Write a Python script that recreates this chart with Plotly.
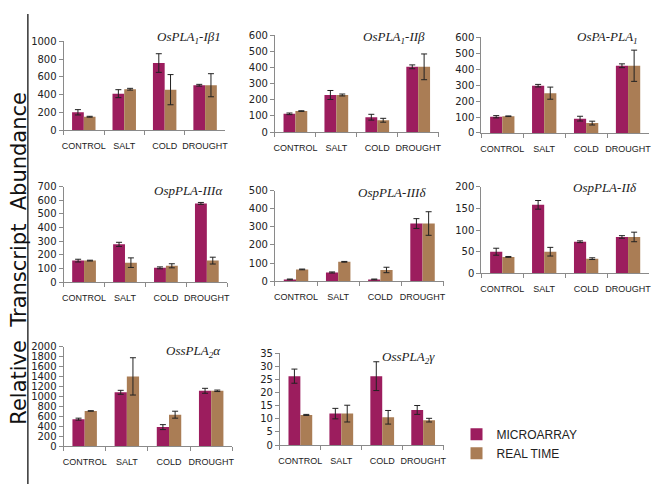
import plotly.graph_objects as go

categories = ["CONTROL", "SALT", "COLD", "DROUGHT"]
series_names = ["MICROARRAY", "REAL TIME"]
colors = ["#9C1D5E", "#AA7D55"]

titles = ["OsPLA<sub>1</sub>-Iβ1", "OsPLA<sub>1</sub>-IIβ", "OsPA-PLA<sub>1</sub>",
          "OspPLA-IIIα", "OspPLA-IIIδ", "OspPLA-IIδ",
          "OssPLA<sub>2</sub>α", "OssPLA<sub>2</sub>γ"]

micro = [
    [200, 410, 755, 505],
    [113, 230, 92, 405],
    [102, 297, 90, 422],
    [158, 277, 105, 577],
    [10, 48, 10, 318],
    [50, 158, 73, 84],
    [540, 1080, 380, 1110],
    [26.3, 12, 26.3, 13.4],
]
micro_err = [
    [30, 45, 105, 10],
    [5, 28, 18, 12],
    [7, 8, 15, 12],
    [10, 15, 7, 7],
    [2, 3, 2, 27],
    [8, 10, 2, 3],
    [20, 40, 50, 50],
    [2.7, 2, 5.5, 1.7],
]
realtime = [
    [150, 460, 455, 505],
    [130, 230, 73, 405],
    [105, 250, 62, 422],
    [158, 143, 120, 158],
    [65, 107, 62, 318],
    [38, 50, 34, 84],
    [705, 1400, 630, 1110],
    [11.5, 12, 10.6, 9.5],
]
realtime_err = [
    [5, 10, 170, 130],
    [2, 6, 12, 80],
    [2, 38, 12, 98],
    [3, 35, 15, 25],
    [2, 2, 15, 65],
    [1, 10, 2, 11],
    [5, 375, 70, 15],
    [0.2, 3.2, 2.6, 0.7],
]
y_max = [1000, 600, 600, 700, 500, 200, 2000, 35]
y_dtick = [200, 100, 100, 100, 100, 50, 200, 5]

# page body has an 8px margin; figure sized to fit inside the 661x500 window
OFF = 8
W, H = 645, 484


def px(x):
    return (x - OFF) / W


def py(y):
    return 1 - (y - OFF) / H


# pixel boxes in window coords: x0, x1, ytop, ybottom
boxes = [
    (62, 225, 36, 127),
    (275, 440, 30, 129),
    (483, 652, 32, 130),
    (62, 227, 185, 283),
    (275, 445, 189, 282),
    (483, 652, 185, 274),
    (62, 232, 349, 451),
    (280, 445, 356, 450),
]
title_pos = [(188, 32), (395, 32), (610, 32), (188, 189), (393, 191), (608, 186), (193, 354), (410, 360)]

fig = go.Figure()
layout = {}
annotations = []
for i in range(8):
    n = "" if i == 0 else str(i + 1)
    xa, ya = "x" + n, "y" + n
    for s, (vals, errs) in enumerate([(micro[i], micro_err[i]), (realtime[i], realtime_err[i])]):
        fig.add_trace(go.Bar(
            x=categories, y=vals, name=series_names[s],
            marker=dict(color=colors[s], line=dict(width=0)),
            error_y=dict(type="data", array=errs, visible=True, color="#222222", thickness=1, width=3),
            xaxis=xa, yaxis=ya, showlegend=(i == 0), legendgroup=series_names[s],
        ))
    x0, x1, yt, yb = boxes[i]
    layout["xaxis" + n] = dict(
        domain=[px(x0), px(x1)], anchor=ya, type="category",
        showline=True, linecolor="#8a8a8a", linewidth=1, showgrid=False,
        ticks="outside", ticklen=4, tickcolor="#8a8a8a", tickson="boundaries",
        tickangle=0,
        tickfont=dict(family="Liberation Sans Narrow, Liberation Sans", size=9, color="#222"),
        ticklabelstandoff=7, fixedrange=True,
    )
    layout["yaxis" + n] = dict(
        domain=[py(yb), py(yt)], anchor=xa, range=[0, y_max[i]], dtick=y_dtick[i],
        showline=True, linecolor="#8a8a8a", linewidth=1, showgrid=False, zeroline=False,
        ticks="outside", ticklen=4, tickcolor="#8a8a8a",
        tickfont=dict(family="DejaVu Sans", size=10, color="#222"), fixedrange=True,
    )
    tx, ty = title_pos[i]
    annotations.append(dict(
        text="<i>" + titles[i] + "</i>", x=px(tx), y=py(ty), xref="paper", yref="paper",
        showarrow=False, font=dict(family="Liberation Serif", size=13, color="#222"),
        xanchor="center", yanchor="middle",
    ))

annotations.append(dict(
    text="Relative\u00a0\u00a0Transcript\u00a0\u00a0Abundance", x=px(17), y=py(258),
    xref="paper", yref="paper",
    showarrow=False, textangle=-90, font=dict(family="DejaVu Sans", size=21, color="#111"),
    xanchor="center", yanchor="middle",
))

fig.update_layout(
    width=W, height=H, margin=dict(l=0, r=0, t=0, b=0),
    paper_bgcolor="white", plot_bgcolor="white",
    barmode="group", bargap=0.42, bargroupgap=0,
    annotations=annotations,
    shapes=[dict(type="line", xref="paper", yref="paper", x0=px(26), x1=px(26),
                 y0=py(490), y1=py(8), line=dict(color="#333", width=1.5))],
    legend=dict(x=px(458), y=py(424), xanchor="left", yanchor="top",
                font=dict(family="Liberation Sans", size=12, color="#222"),
                bgcolor="rgba(0,0,0,0)", itemwidth=30, tracegroupgap=0),
    **layout,
)

fig.write_html("out.html")
